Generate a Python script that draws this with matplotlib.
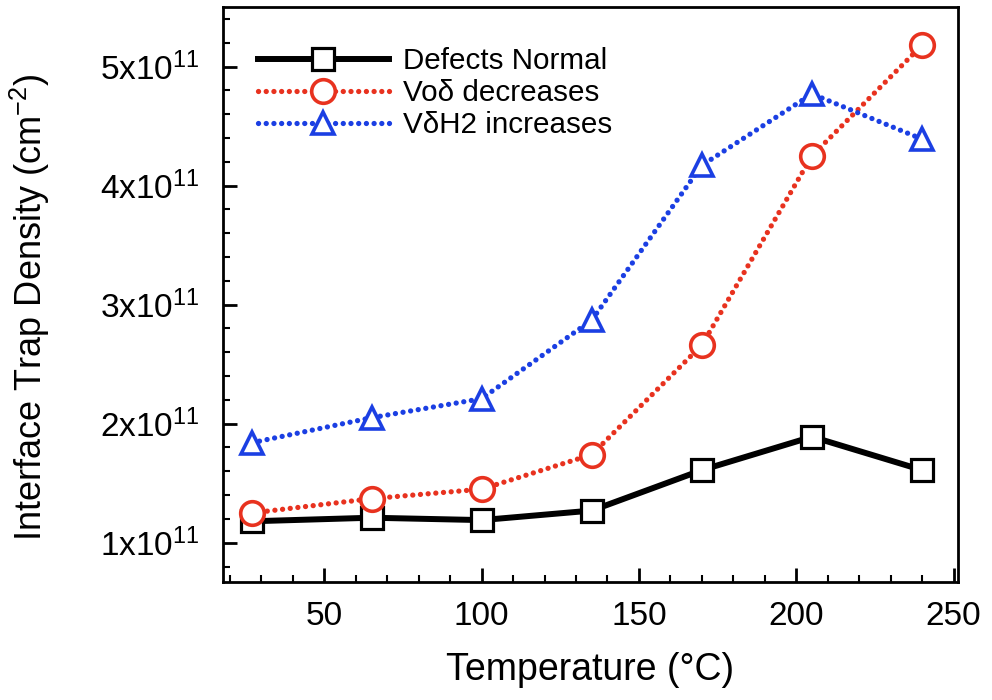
import matplotlib
matplotlib.use('Agg')
import matplotlib.pyplot as plt
from matplotlib.ticker import MultipleLocator, FixedLocator, FuncFormatter

plt.rcParams['font.family'] = ['Liberation Sans', 'DejaVu Sans']
plt.rcParams['mathtext.fontset'] = 'custom'
plt.rcParams['mathtext.rm'] = 'Liberation Sans'
plt.rcParams['mathtext.it'] = 'Liberation Sans'

# data
temps = [27, 65, 100, 135, 170, 205, 240]
defects_normal = [1.18e11, 1.21e11, 1.19e11, 1.27e11, 1.61e11, 1.89e11, 1.61e11]
vo_decreases = [1.25e11, 1.37e11, 1.45e11, 1.74e11, 2.66e11, 4.25e11, 5.18e11]
vh2_increases = [1.84e11, 2.05e11, 2.21e11, 2.87e11, 4.17e11, 4.77e11, 4.39e11]
labels = ['Defects Normal', 'Vo\u03b4 decreases', 'V\u03b4H2 increases']
ytick_vals = [1e11, 2e11, 3e11, 4e11, 5e11]

red = '#e8321f'
blue = '#1b3fe3'

fig = plt.figure(figsize=(9.92, 7), dpi=100)
ax = fig.add_axes([223 / 992, 1 - 582 / 700, (958 - 223) / 992, (582 - 7) / 700])

dots = (0, (0.01, 1.45))
ax.plot(temps, defects_normal, color='black', lw=4.3, marker='s', ms=15.5,
        mfc='white', mec='black', mew=2.3, label=labels[0], zorder=3)
ax.plot(temps, vo_decreases, color=red, lw=3.8, ls=dots, dash_capstyle='round',
        marker='o', ms=17, mfc='white', mec=red, mew=2.6, label=labels[1], zorder=4)
ax.plot(temps, vh2_increases, color=blue, lw=3.8, ls=dots, dash_capstyle='round',
        marker='^', ms=16.5, mfc='white', mec=blue, mew=2.6, label=labels[2], zorder=5)

ax.set_xlim(17.8, 251.4)
ax.set_ylim(0.67e11, 5.5e11)

ax.xaxis.set_major_locator(MultipleLocator(50))
ax.xaxis.set_minor_locator(MultipleLocator(10))
ax.yaxis.set_major_locator(FixedLocator(ytick_vals))
ax.yaxis.set_minor_locator(MultipleLocator(0.2e11))
ax.yaxis.set_major_formatter(FuncFormatter(lambda v, p: '%dx10$^{11}$' % round(v / 1e11)))

ax.tick_params(which='both', direction='in', top=False, right=False)
ax.tick_params(which='major', length=10, width=2, labelsize=24)
ax.tick_params(which='minor', length=5, width=1.5)
ax.tick_params(axis='x', which='major', pad=14)
ax.tick_params(axis='y', which='major', pad=17)
for s in ax.spines.values():
    s.set_linewidth(2)

ax.set_xlabel('Temperature (\u00b0C)', fontsize=27, labelpad=14)
ax.set_ylabel('Interface Trap Density (cm$^{-2}$)', fontsize=26)
ax.yaxis.set_label_coords(-0.232, 0.478)

ax.legend(loc='upper left', bbox_to_anchor=(0.047, 0.93), frameon=False,
          fontsize=21.3, handlelength=4.45, handletextpad=0.45, labelspacing=0.13,
          borderpad=0, borderaxespad=0)

fig.savefig('out.png', dpi=100)
